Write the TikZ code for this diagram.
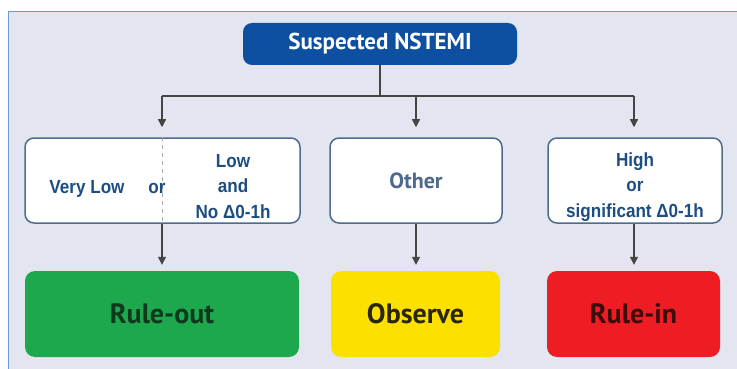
\documentclass[tikz,border=0pt]{standalone}
\usepackage{fontspec}
\usetikzlibrary{arrows.meta,calc}
\newfontfamily\arialf[FakeStretch=0.9]{Liberation Sans}
\newfontfamily\gillf{PT Sans}
\definecolor{bgc}{HTML}{E3E6F0}
\definecolor{framec}{HTML}{6A9BD8}
\definecolor{titlec}{HTML}{0D4FA0}
\definecolor{boxline}{HTML}{4F6C8E}
\definecolor{txtblue}{HTML}{1C4E82}
\definecolor{othertxt}{HTML}{4C6A8E}
\definecolor{linec}{HTML}{454545}
\definecolor{dashc}{HTML}{A8A8A8}
\definecolor{greenc}{HTML}{1DA84E}
\definecolor{yellowc}{HTML}{FCE000}
\definecolor{redc}{HTML}{EE1D23}
\definecolor{greentxt}{HTML}{10381C}
\definecolor{yellowtxt}{HTML}{2B2608}
\definecolor{redtxt}{HTML}{3D0C0C}
\tikzset{
  titlebox/.style={draw=none, fill=titlec, rounded corners=9pt, minimum width=274pt, minimum height=42pt, inner sep=0pt,
    text=white, font=\gillf\bfseries\fontsize{23}{27}\selectfont},
  critbox/.style={draw=boxline, line width=1.5pt, fill=white, rounded corners=9pt, minimum height=85pt, inner sep=0pt},
  outbox/.style={draw=none, rounded corners=10pt, minimum height=86pt, inner sep=0pt, font=\gillf\bfseries\fontsize{28}{32}\selectfont},
  crit/.style={text=txtblue, font=\arialf\bfseries\fontsize{19}{25.5}\selectfont, align=center, inner sep=0pt},
  conn/.style={draw=linec, line width=1.2pt},
  arr/.style={conn, -{Triangle[length=8pt,width=8pt]}},
}
\begin{document}
\begin{tikzpicture}[x=1pt,y=-1pt]
\useasboundingbox (0,0) rectangle (737,369);
\fill[bgc] (8,12) rectangle (737,369);
\draw[framec, line width=1pt] (8,369) -- (8,12) -- (737,12);

% title
\node[titlebox] (title) at (380,44) {Suspected NSTEMI};

% criteria boxes
\node[critbox, minimum width=275pt] (left) at (162.5,180.5) {};
\node[critbox, minimum width=172pt] (mid) at (416,180.5) {};
\node[critbox, minimum width=174pt] (right) at (635,180.5) {};

% outcome boxes
\node[outbox, fill=greenc, text=greentxt, minimum width=274pt] (out) at (162,314) {Rule-out};
\node[outbox, fill=yellowc, text=yellowtxt, minimum width=169pt] (obs) at (415.5,314) {Observe};
\node[outbox, fill=redc, text=redtxt, minimum width=173pt] (rin) at (633.5,314) {Rule-in};

% connectors
\coordinate (j) at (380,96);
\coordinate (jl) at (162,96);
\coordinate (jm) at (416,96);
\coordinate (jr) at (634,96);
\draw[conn] (title.south) -- (j);
\draw[conn] (jl) -- (jr);
\draw[arr, shorten >=10pt] (jl) -- (jl |- left.north);
\draw[arr, shorten >=10pt] (jm) -- (jm |- mid.north);
\draw[arr, shorten >=10pt] (jr) -- (jr |- right.north);
\draw[dashc, line width=1pt, dash pattern=on 4pt off 4pt] (jl |- left.north) -- (jl |- left.south);
\draw[arr, shorten >=6pt] (jl |- left.south) -- (jl |- out.north);
\draw[arr, shorten >=6pt] (jm |- mid.south) -- (jm |- obs.north);
\draw[arr, shorten >=6pt] (jr |- right.south) -- (jr |- rin.north);

% texts
\node[crit, anchor=base] (vlow) at (87,193) {Very Low};
\node[crit, anchor=base] (or1) at (157,193) {or};
\node[crit, anchor=base] (low) at (233,218) {Low\\and\\No Δ0-1h};
\node[text=othertxt, font=\gillf\bfseries\fontsize{22}{26}\selectfont, inner sep=0pt] (other) at (mid.center) {Other};
\node[crit, anchor=base] (high) at (635,217) {High\\or\\significant Δ0-1h};
\end{tikzpicture}
\end{document}
